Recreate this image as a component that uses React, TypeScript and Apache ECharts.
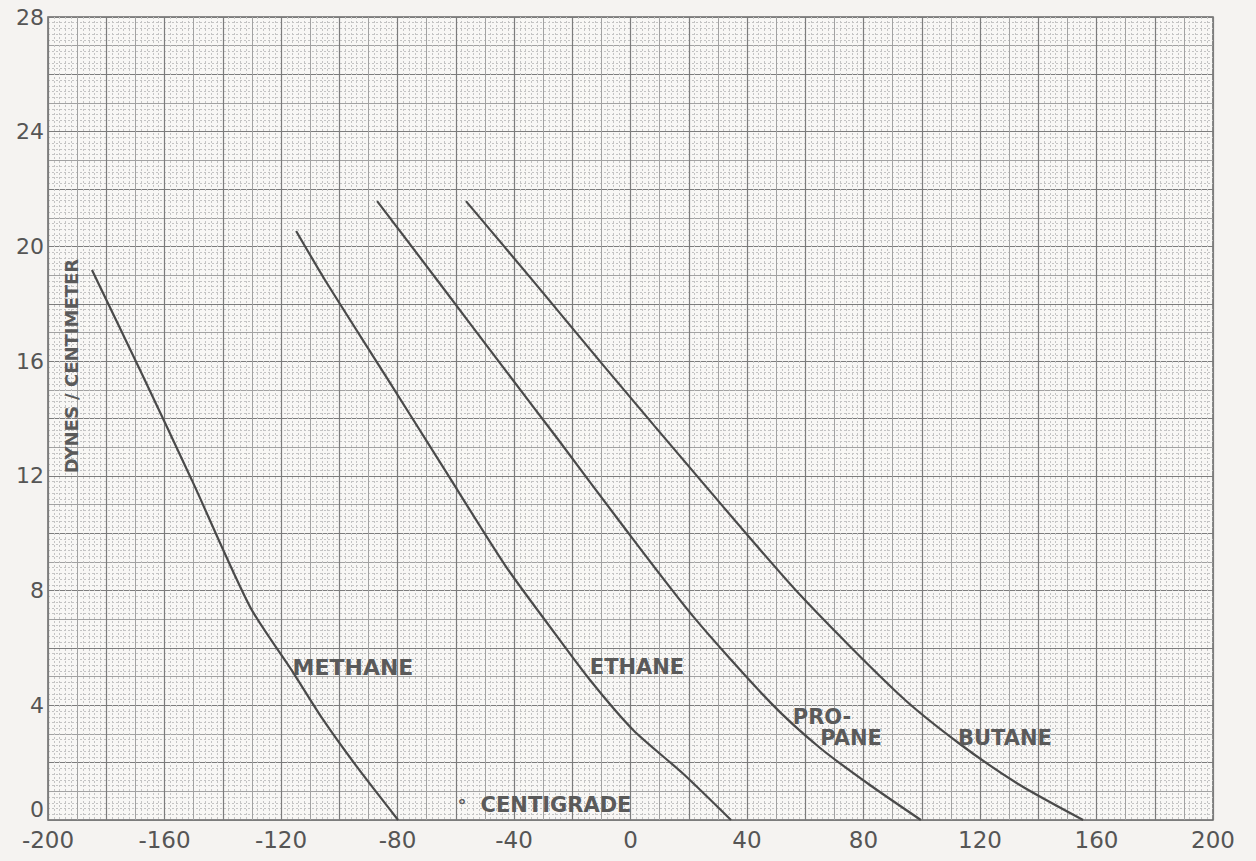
import React, { useEffect, useRef } from "react";
import * as echarts from "echarts";

// Surface tension (dynes/cm) vs temperature (°C)
const methane: [number, number][] = [
  [-184.9, 19.18], [-168.4, 15.69], [-150.6, 11.85], [-130.6, 7.43],
  [-116.2, 5.2], [-105.9, 3.55], [-93.9, 1.85], [-79.8, 0],
];
const ethane: [number, number][] = [
  [-114.8, 20.54], [-104.9, 18.83], [-84.3, 15.52], [-63.7, 12.2],
  [-43.1, 8.89], [-27.6, 6.73], [-13.9, 4.88], [0.9, 3.14], [18.0, 1.62], [34.5, 0],
];
const propane: [number, number][] = [
  [-87.0, 21.58], [-66.4, 18.83], [-44.8, 15.93], [-24.2, 13.18], [-3.6, 10.39],
  [21.5, 7.1], [47.9, 4.11], [65.1, 2.51], [82.2, 1.22], [99.7, 0],
];
const butane: [number, number][] = [
  [-56.5, 21.58], [-32.8, 18.72], [-9.4, 15.86], [26.3, 11.58], [58.2, 7.85],
  [92.5, 4.35], [113.1, 2.65], [133.7, 1.22], [155.4, 0],
];

const xMin = -200, xMax = 200, xLabelStep = 40;
const yMin = 0, yMax = 28, yLabelStep = 4;
const yTitle = "DYNES / CENTIMETER";
const xTitle = "CENTIGRADE";

const FONT = "DejaVu Sans";
const INK = "#555555";

export default function App() {
  const ref = useRef<HTMLDivElement>(null);
  useEffect(() => {
    const chart = echarts.init(ref.current!, null, { renderer: "svg" });
    const gridAxis = (min: number, max: number, position: string, interval: number, color: string, type: any, width = 1) => ({
      type: "value",
      min,
      max,
      interval,
      position,
      axisLine: { show: false },
      axisTick: { show: false },
      axisLabel: { show: false },
      splitLine: { show: true, lineStyle: { color, width, type } },
    });
    const xAx = (interval: number, color: string, type: any, width = 1) =>
      gridAxis(xMin, xMax, "bottom", interval, color, type, width);
    const yAx = (interval: number, color: string, type: any, width = 1) =>
      gridAxis(yMin, yMax, "left", interval, color, type, width);
    const lineSeries = (data: [number, number][]) => ({
      type: "line",
      data,
      xAxisIndex: 3,
      yAxisIndex: 3,
      smooth: 0.25,
      symbol: "none",
      lineStyle: { color: "#4a4a4a", width: 2.2 },
      z: 10,
    });
    const label = (text: string, x: number, y: number, size = 21) => ({
      type: "text",
      x,
      y,
      z: 20,
      style: {
        text,
        fontFamily: FONT,
        fontWeight: "bold",
        fontSize: size,
        fill: "#5a5a5a",
        align: "center",
        verticalAlign: "middle",
      },
    });
    chart.setOption({
      animation: false,
      backgroundColor: "#f5f3f1",
      grid: {
        left: 48,
        right: 43,
        top: 17,
        bottom: 41,
        show: true,
        backgroundColor: "#f8f7f5",
        borderColor: "#666",
        borderWidth: 1.5,
      },
      xAxis: [
        xAx(2, "#c4c4c4", [2, 2]),
        xAx(10, "#a2a2a2", "solid"),
        xAx(20, "#7c7c7c", "solid", 1.2),
        {
          type: "value",
          min: xMin,
          max: xMax,
          interval: xLabelStep,
          position: "bottom",
          axisLine: { show: false },
          axisTick: { show: false },
          splitLine: { show: false },
          axisLabel: {
            fontFamily: FONT,
            fontSize: 23,
            color: INK,
            margin: 8,
          },
        },
      ],
      yAxis: [
        yAx(0.2, "#c4c4c4", [2, 2]),
        yAx(1, "#a2a2a2", "solid"),
        yAx(2, "#7c7c7c", "solid", 1.2),
        {
          type: "value",
          min: yMin,
          max: yMax,
          interval: yLabelStep,
          position: "left",
          axisLine: { show: false },
          axisTick: { show: false },
          splitLine: { show: false },
          axisLabel: {
            fontFamily: FONT,
            fontSize: 22,
            color: INK,
            margin: 4,
            verticalAlignMinLabel: "bottom",
          },
        },
      ],
      series: [lineSeries(methane), lineSeries(ethane), lineSeries(propane), lineSeries(butane)],
      graphic: [
        { ...label(yTitle, 71, 366, 18), rotation: Math.PI / 2 },
        label("METHANE", 353, 667, 22),
        label("ETHANE", 637, 667),
        label("PRO-", 822, 717),
        label("PANE", 851, 738),
        label("BUTANE", 1005, 738),
        label(xTitle, 556, 805),
        label("°", 462, 805, 18),
      ],
    });
    return () => chart.dispose();
  }, []);
  return (
    <div
      ref={ref}
      style={{ position: "fixed", left: 0, top: 0, width: 1256, height: 861 }}
    />
  );
}
